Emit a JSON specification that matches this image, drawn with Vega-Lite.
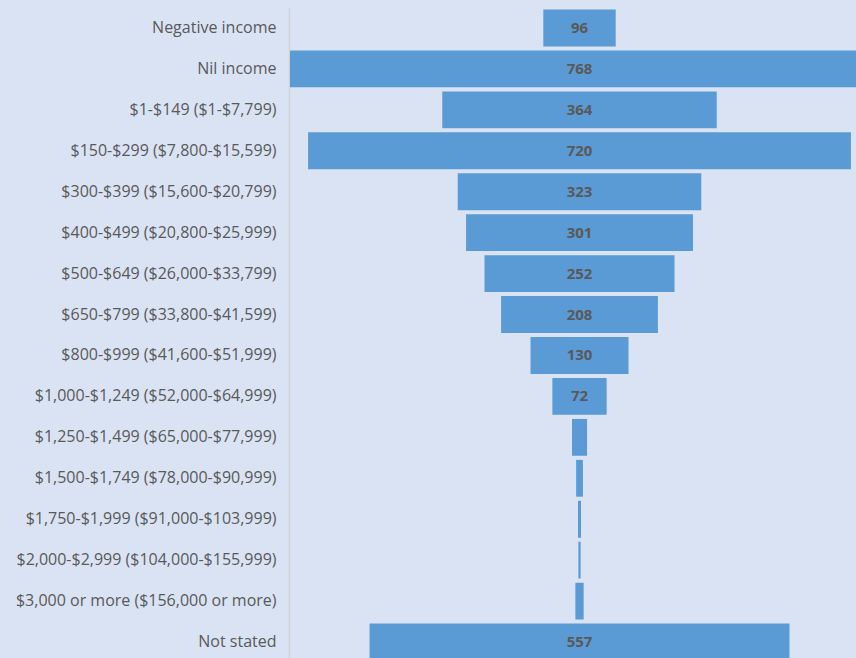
{
  "$schema": "https://vega.github.io/schema/vega-lite/v6.json",
  "autosize": "none",
  "width": 567,
  "height": 655,
  "padding": {"left": 289, "top": 7.5, "right": 0, "bottom": 0},
  "background": "#dae3f3",
  "config": {"view": {"stroke": null}},
  "data": {"values": [
    {"category": "Negative income", "value": 96},
    {"category": "Nil income", "value": 768},
    {"category": "$1-$149 ($1-$7,799)", "value": 364},
    {"category": "$150-$299 ($7,800-$15,599)", "value": 720},
    {"category": "$300-$399 ($15,600-$20,799)", "value": 323},
    {"category": "$400-$499 ($20,800-$25,999)", "value": 301},
    {"category": "$500-$649 ($26,000-$33,799)", "value": 252},
    {"category": "$650-$799 ($33,800-$41,599)", "value": 208},
    {"category": "$800-$999 ($41,600-$51,999)", "value": 130},
    {"category": "$1,000-$1,249 ($52,000-$64,999)", "value": 72},
    {"category": "$1,250-$1,499 ($65,000-$77,999)", "value": 20},
    {"category": "$1,500-$1,749 ($78,000-$90,999)", "value": 9},
    {"category": "$1,750-$1,999 ($91,000-$103,999)", "value": 4},
    {"category": "$2,000-$2,999 ($104,000-$155,999)", "value": 3},
    {"category": "$3,000 or more ($156,000 or more)", "value": 11},
    {"category": "Not stated", "value": 557}
  ]},
  "encoding": {
    "y": {
      "field": "category", "type": "nominal", "sort": null, "title": null,
      "scale": {"paddingInner": 0.1, "paddingOuter": 0.05},
      "axis": {
        "ticks": false, "labelPadding": 13, "domainColor": "#d0d4dc", "domainWidth": 1.5,
        "labelFont": "Open Sans", "labelFontSize": 16, "labelColor": "#595959", "labelLimit": 300
      }
    }
  },
  "layer": [
    {
      "mark": {"type": "bar", "color": "#5b9bd5", "clip": true},
      "encoding": {
        "x": {
          "field": "value", "type": "quantitative", "stack": "center",
          "scale": {"domain": [-1.3, 750.7], "nice": false, "zero": false},
          "axis": null
        }
      }
    },
    {
      "transform": [{"filter": "datum.value >= 50"}],
      "mark": {"type": "text", "font": "Open Sans", "fontSize": 15, "fontWeight": "bold", "color": "#595959"},
      "encoding": {
        "x": {"datum": 384, "type": "quantitative"},
        "text": {"field": "value", "type": "quantitative"}
      }
    }
  ]
}
